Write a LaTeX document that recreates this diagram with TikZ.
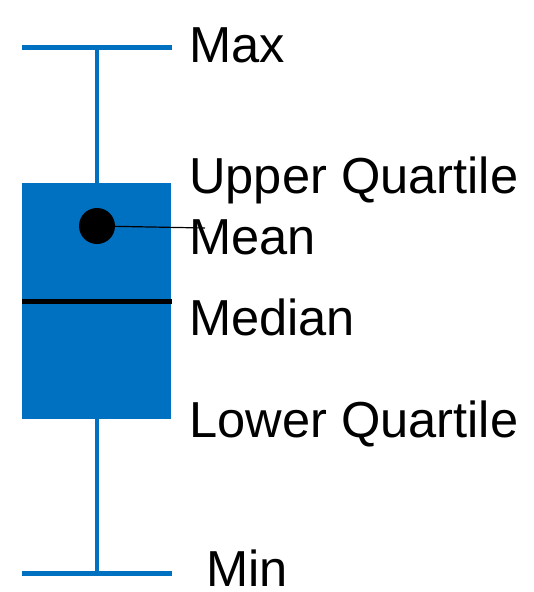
\documentclass[tikz,border=0pt]{standalone}
\usepackage{fontspec}
\setmainfont{Liberation Sans}
\usepackage{xcolor}
\usepackage{tikz}
\usetikzlibrary{positioning}
\definecolor{boxblue}{RGB}{0,112,192}

\begin{document}
\begin{tikzpicture}[x=1pt,y=-1pt,
  lbl/.style={anchor=base west,inner sep=0pt,font=\fontsize{50.6}{60}\selectfont}]
\useasboundingbox (0,0) rectangle (534,592);
\fill[boxblue] (22,183) rectangle (171,419);
\draw[boxblue,line width=4pt] (97,47) -- (97,183);
\draw[boxblue,line width=4pt] (97,419) -- (97,573);
\draw[boxblue,line width=5pt] (22,47) -- (172,47);
\draw[boxblue,line width=5pt] (22,573) -- (172,573);
\draw[line width=5pt] (22,301) -- (172,301);
\node[circle,fill,inner sep=0pt,minimum size=36pt] (dot) at (97,226) {};
\coordinate (tick) at (205,228);
\draw[line width=1.2pt] (dot) -- (tick);
\node[lbl] (max) at (189,62) {Max};
\node[lbl] (uq) at (189,193) {Upper Quartile};
\node[lbl] (mean) at (189,254) {Mean};
\node[lbl] (med) at (189,335) {Median};
\node[lbl] (lq) at (189,437) {Lower Quartile};
\node[lbl] (min) at (206,586) {Min};
\end{tikzpicture}
\end{document}
